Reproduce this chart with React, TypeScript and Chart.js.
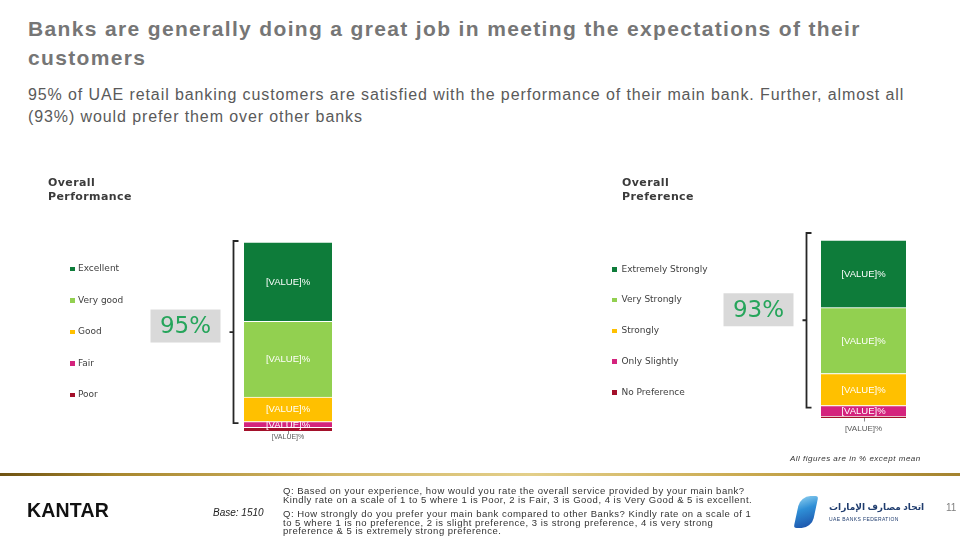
import React, { useEffect, useRef } from 'react';
import { Chart, registerables } from 'chart.js';

Chart.register(...registerables);

// ---------- data ----------
const PERF_CATEGORIES = ['Excellent', 'Very good', 'Good', 'Fair', 'Poor'];
const PERF_VALUES = [42, 40, 13, 3, 2];
const PREF_CATEGORIES = ['Extremely Strongly', 'Very Strongly', 'Strongly', 'Only Slightly', 'No Preference'];
const PREF_VALUES = [38, 37, 18, 6, 1];
const SEGMENT_COLORS = ['#0e7c3a', '#92d050', '#ffc000', '#d4237d', '#a3102a'];
const PANEL_TITLES = ['Overall\nPerformance', 'Overall\nPreference'];
const TOP3_LABELS = ['95%', '93%'];
const SEGMENT_LABEL = '[VALUE]%';

// ---------- layout (positions / styles) ----------
const PANELS = [
  {
    left: 0,
    padding: { left: 244, right: 148, top: 242, bottom: 109 },
    overTop: 1, overBottom: 1.5, gap: 11.5, boxShift: -6, outerOffset: 6, outerFont: 7,
    legendX: 70, legendY: 266.5, legendStep: 31.5, textX: 78,
    headerX: 48,
  },
  {
    left: 480,
    padding: { left: 341, right: 54, top: 240, bottom: 122 },
    overTop: 7, overBottom: 2, gap: 15, boxShift: -10.5, outerOffset: 11, outerFont: 8,
    legendX: 612, legendY: 267, legendStep: 30.8, textX: 621.5,
    headerX: 622,
  },
];

const decorPlugin = {
  id: 'decor',
  afterDatasetsDraw(chart: any, _args: any, opts: any) {
    const ctx = chart.ctx as CanvasRenderingContext2D;
    const n = chart.data.datasets.length;
    const els = Array.from({ length: n }, (_, i) => chart.getDatasetMeta(i).data[0] as any);
    ctx.save();
    ctx.textAlign = 'center';
    ctx.textBaseline = 'middle';
    els.forEach((el, i) => {
      const p = el.getProps(['x', 'y', 'base', 'width'], true);
      if (i === 0) {
        const xx = Math.round(p.x) + 0.5;
        ctx.strokeStyle = '#8c8c8c';
        ctx.lineWidth = 1;
        ctx.beginPath();
        ctx.moveTo(xx, p.base);
        ctx.lineTo(xx, p.base + 3.5);
        ctx.stroke();
        ctx.fillStyle = '#595959';
        ctx.font = `${opts.outerFont}px "Liberation Sans"`;
        ctx.fillText(opts.label, p.x, p.base + opts.outerOffset);
      } else {
        ctx.fillStyle = '#ffffff';
        ctx.font = `9.5px "Liberation Sans"`;
        ctx.fillText(opts.label, p.x, (p.y + p.base) / 2 + 0.5);
      }
    });
    // bracket over top three segments
    const topEl = els[n - 1].getProps(['x', 'y', 'base', 'width'], true);
    const thirdEl = els[n - 3].getProps(['x', 'y', 'base', 'width'], true);
    const barLeft = topEl.x - topEl.width / 2;
    const bx = Math.round(barLeft - opts.gap) + 0.5;
    const top = topEl.y - opts.overTop;
    const bottom = thirdEl.base + opts.overBottom;
    const mid = (top + bottom) / 2;
    ctx.strokeStyle = '#262626';
    ctx.lineWidth = 1.8;
    ctx.beginPath();
    ctx.moveTo(bx + 5, top);
    ctx.lineTo(bx, top);
    ctx.lineTo(bx, bottom);
    ctx.lineTo(bx + 5, bottom);
    ctx.moveTo(bx, mid);
    ctx.lineTo(bx - 4, mid);
    ctx.stroke();
    // summary box
    const bw = 70, bh = 33;
    const boxRight = bx - 13;
    const cy = mid + opts.boxShift;
    ctx.fillStyle = '#d9d9d9';
    ctx.fillRect(boxRight - bw, cy - bh / 2, bw, bh);
    ctx.fillStyle = '#26a55b';
    ctx.font = '23px "DejaVu Sans"';
    ctx.fillText(opts.big, boxRight - bw / 2, cy + 1);
    ctx.restore();
  },
};

function PanelChart({ idx, categories, values }: { idx: number; categories: string[]; values: number[] }) {
  const ref = useRef<HTMLCanvasElement>(null);
  useEffect(() => {
    const P = PANELS[idx];
    const order = categories.map((_, i) => i).reverse(); // bottom segment first
    const chart = new Chart(ref.current as HTMLCanvasElement, {
      type: 'bar',
      data: {
        labels: [PANEL_TITLES[idx].replace('\n', ' ')],
        datasets: order.map((i) => ({
          label: categories[i],
          data: [values[i]],
          backgroundColor: SEGMENT_COLORS[i],
          borderColor: '#ffffff',
          borderWidth: { top: 1, right: 0, bottom: 0, left: 0 },
          borderSkipped: false,
          barPercentage: 1,
          categoryPercentage: 1,
        })),
      },
      options: {
        animation: false,
        responsive: false,
        devicePixelRatio: 1,
        layout: { padding: P.padding },
        scales: {
          x: { stacked: true, display: false },
          y: { stacked: true, display: false, min: 0, max: 100 },
        },
        plugins: {
          legend: { display: false },
          tooltip: { enabled: false },
          decor: {
            label: SEGMENT_LABEL,
            big: TOP3_LABELS[idx],
            overTop: P.overTop,
            overBottom: P.overBottom,
            gap: P.gap,
            boxShift: P.boxShift,
            outerOffset: P.outerOffset,
            outerFont: P.outerFont,
          },
        } as any,
      },
      plugins: [decorPlugin],
    });
    return () => chart.destroy();
  }, []);
  const P = PANELS[idx];
  return (
    <canvas
      ref={ref}
      width={480}
      height={540}
      style={{ position: 'absolute', left: P.left, top: 0, width: 480, height: 540 }}
    />
  );
}

function Legend({ idx, categories }: { idx: number; categories: string[] }) {
  const P = PANELS[idx];
  return (
    <>
      {categories.map((c, i) => (
        <React.Fragment key={c}>
          <div
            style={{
              position: 'absolute',
              left: P.legendX,
              top: P.legendY + i * P.legendStep,
              width: 4.5,
              height: 4.5,
              background: SEGMENT_COLORS[i],
            }}
          />
          <div
            style={{
              position: 'absolute',
              left: P.textX,
              top: P.legendY + i * P.legendStep - 4.5,
              font: '9px "DejaVu Sans"',
              lineHeight: '13px',
              color: '#404040',
              whiteSpace: 'nowrap',
            }}
          >
            {c}
          </div>
        </React.Fragment>
      ))}
      <div
        style={{
          position: 'absolute',
          left: P.headerX,
          top: 176,
          font: 'bold 11px "DejaVu Sans"',
          letterSpacing: '0.4px',
          lineHeight: '14px',
          color: '#3a3a3a',
          whiteSpace: 'pre',
        }}
      >
        {PANEL_TITLES[idx]}
      </div>
    </>
  );
}

export default function App() {
  return (
    <div
      style={{
        position: 'absolute',
        left: 0,
        top: 0,
        width: 960,
        height: 540,
        overflow: 'hidden',
        background: '#ffffff',
        fontFamily: '"Liberation Sans", Arial, sans-serif',
      }}
    >
      <div
        style={{
          position: 'absolute',
          left: 28,
          top: 14,
          width: 930,
          font: 'bold 21px "Liberation Sans"',
          letterSpacing: '1.35px',
          lineHeight: '29px',
          color: '#767676',
          whiteSpace: 'nowrap',
        }}
      >
        Banks are generally doing a great job in meeting the expectations of their
        <br />
        customers
      </div>
      <div
        style={{
          position: 'absolute',
          left: 28,
          top: 84,
          width: 930,
          font: '16px "Liberation Sans"',
          letterSpacing: '0.9px',
          lineHeight: '21.5px',
          color: '#5a5a5a',
          whiteSpace: 'nowrap',
        }}
      >
        95% of UAE retail banking customers are satisfied with the performance of their main bank. Further, almost all
        <br />
        (93%) would prefer them over other banks
      </div>

      <PanelChart idx={0} categories={PERF_CATEGORIES} values={PERF_VALUES} />
      <PanelChart idx={1} categories={PREF_CATEGORIES} values={PREF_VALUES} />
      <Legend idx={0} categories={PERF_CATEGORIES} />
      <Legend idx={1} categories={PREF_CATEGORIES} />

      <div
        style={{
          position: 'absolute',
          left: 790,
          top: 454,
          font: 'italic 8px "Liberation Sans"',
          letterSpacing: '0.5px',
          color: '#333',
          whiteSpace: 'nowrap',
        }}
      >
        All figures are in % except mean
      </div>

      <div
        style={{
          position: 'absolute',
          left: 0,
          top: 473,
          width: 960,
          height: 3,
          background: 'linear-gradient(90deg, #6e5212 0%, #a8872e 12%, #d2b767 35%, #e3cf8a 55%, #c9a94f 78%, #a4832f 100%)',
        }}
      />

      <div
        style={{
          position: 'absolute',
          left: 27,
          top: 499,
          font: 'bold 19.5px "Liberation Sans"',
          letterSpacing: '0.2px',
          color: '#111',
          lineHeight: '22px',
        }}
      >
        KANTAR
      </div>

      <div
        style={{
          position: 'absolute',
          left: 213,
          top: 507,
          font: 'italic 10px "Liberation Sans"',
          color: '#222',
          whiteSpace: 'nowrap',
        }}
      >
        Base: 1510
      </div>

      <div
        style={{
          position: 'absolute',
          left: 283,
          top: 487,
          width: 500,
          font: '9.5px "Liberation Sans"',
          letterSpacing: '0.5px',
          lineHeight: '8.6px',
          color: '#333',
          whiteSpace: 'nowrap',
        }}
      >
        <div>Q: Based on your experience, how would you rate the overall service provided by your main bank?</div>
        <div>Kindly rate on a scale of 1 to 5 where 1 is Poor, 2 is Fair, 3 is Good, 4 is Very Good &amp; 5 is excellent.</div>
        <div style={{ marginTop: 6 }}>
          Q: How strongly do you prefer your main bank compared to other Banks? Kindly rate on a scale of 1
          <br />
          to 5 where 1 is no preference, 2 is slight preference, 3 is strong preference, 4 is very strong
          <br />
          preference &amp; 5 is extremely strong preference.
        </div>
      </div>

      {/* federation logo */}
      <div
        style={{
          position: 'absolute',
          left: 797,
          top: 496,
          width: 18,
          height: 32,
          borderRadius: '10px 3px 10px 3px',
          transform: 'skewX(-12deg)',
          background: 'linear-gradient(160deg, #8fd0f0 0%, #2f8fd6 40%, #1b4fa8 100%)',
        }}
      />
      <div
        style={{
          position: 'absolute',
          left: 829,
          top: 500,
          font: 'bold 9px "Noto Sans", "DejaVu Sans"',
          color: '#1f3c6e',
          whiteSpace: 'nowrap',
          direction: 'rtl',
        }}
      >
        اتحاد مصارف الإمارات
      </div>
      <div
        style={{
          position: 'absolute',
          left: 829,
          top: 516,
          font: '5px "Liberation Sans"',
          letterSpacing: '0.4px',
          color: '#1f3c6e',
          whiteSpace: 'nowrap',
        }}
      >
        UAE BANKS FEDERATION
      </div>

      <div
        style={{
          position: 'absolute',
          left: 946,
          top: 502,
          font: '10px "Liberation Sans"',
          color: '#7f7f7f',
        }}
      >
        11
      </div>
    </div>
  );
}
